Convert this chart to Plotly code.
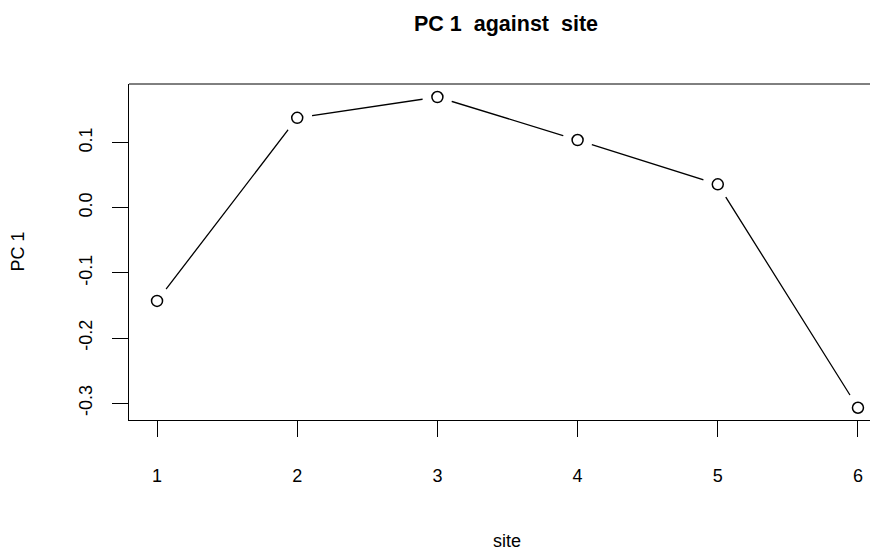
import plotly.graph_objects as go

site = [1, 2, 3, 4, 5, 6]
pc1 = [-0.143, 0.138, 0.170, 0.104, 0.036, -0.307]
x_ticks = [1, 2, 3, 4, 5, 6]
x_ticktext = ["1", "2", "3", "4", "5", "6"]
y_ticks = [-0.3, -0.2, -0.1, 0.0, 0.1]
y_ticktext = ["-0.3", "-0.2", "-0.1", "0.0", "0.1"]

FONT = "Liberation Sans, Arial, sans-serif"

fig = go.Figure()
# connecting lines
fig.add_trace(go.Scatter(x=site, y=pc1, mode="lines",
                         line=dict(color="black", width=1.3),
                         hoverinfo="skip", showlegend=False))
# white masks giving the type="b" gaps
fig.add_trace(go.Scatter(x=site, y=pc1, mode="markers",
                         marker=dict(symbol="circle", size=30, color="white",
                                     line=dict(width=0)),
                         hoverinfo="skip", showlegend=False, cliponaxis=False))
# open circles
fig.add_trace(go.Scatter(x=site, y=pc1, mode="markers",
                         marker=dict(symbol="circle-open", size=11, color="black",
                                     line=dict(width=1.5, color="black")),
                         showlegend=False, cliponaxis=False))

# page body has an 8px margin; plot area spans x 129..886, y 84..420 on screen
fig.update_layout(
    width=878, height=550,
    margin=dict(l=121, r=0, t=76, b=138),
    paper_bgcolor="white", plot_bgcolor="white",
    font=dict(family=FONT, size=18, color="black"),
    xaxis=dict(range=[0.8, 6.2], tickmode="array", tickvals=x_ticks,
               ticktext=x_ticktext, ticks="outside", ticklen=16, tickwidth=1,
               tickcolor="black", showline=True, linecolor="black", linewidth=1,
               showgrid=False, zeroline=False, ticklabelstandoff=23,
               layer="above traces"),
    yaxis=dict(range=[-0.3258, 0.1900], tickmode="array", tickvals=y_ticks,
               ticktext=y_ticktext, ticks="outside", ticklen=16, tickwidth=1,
               tickcolor="black", showline=True, linecolor="black", linewidth=1,
               showgrid=False, zeroline=False, tickangle=-90,
               ticklabelstandoff=13, layer="above traces"),
    shapes=[dict(type="line", xref="paper", yref="paper", x0=0, x1=1, y0=1, y1=1,
                 line=dict(color="black", width=1), layer="above")],
    annotations=[
        dict(text="<b>PC 1  against  site</b>", xref="paper", yref="paper",
             x=(505.5 - 129) / 757, y=1, xanchor="center", yanchor="middle",
             yshift=84 - 24, showarrow=False, font=dict(size=21.5, family=FONT)),
        dict(text="site", xref="paper", yref="paper", x=(507 - 129) / 757, y=0,
             xanchor="center", yanchor="middle", yshift=-(541 - 420),
             showarrow=False, font=dict(size=18, family=FONT)),
        dict(text="PC 1", xref="paper", yref="paper", x=0, y=0.5,
             xanchor="center", yanchor="middle", xshift=-(129 - 17.5),
             textangle=-90, showarrow=False, font=dict(size=18, family=FONT)),
    ],
)

fig.write_html("out.html")
